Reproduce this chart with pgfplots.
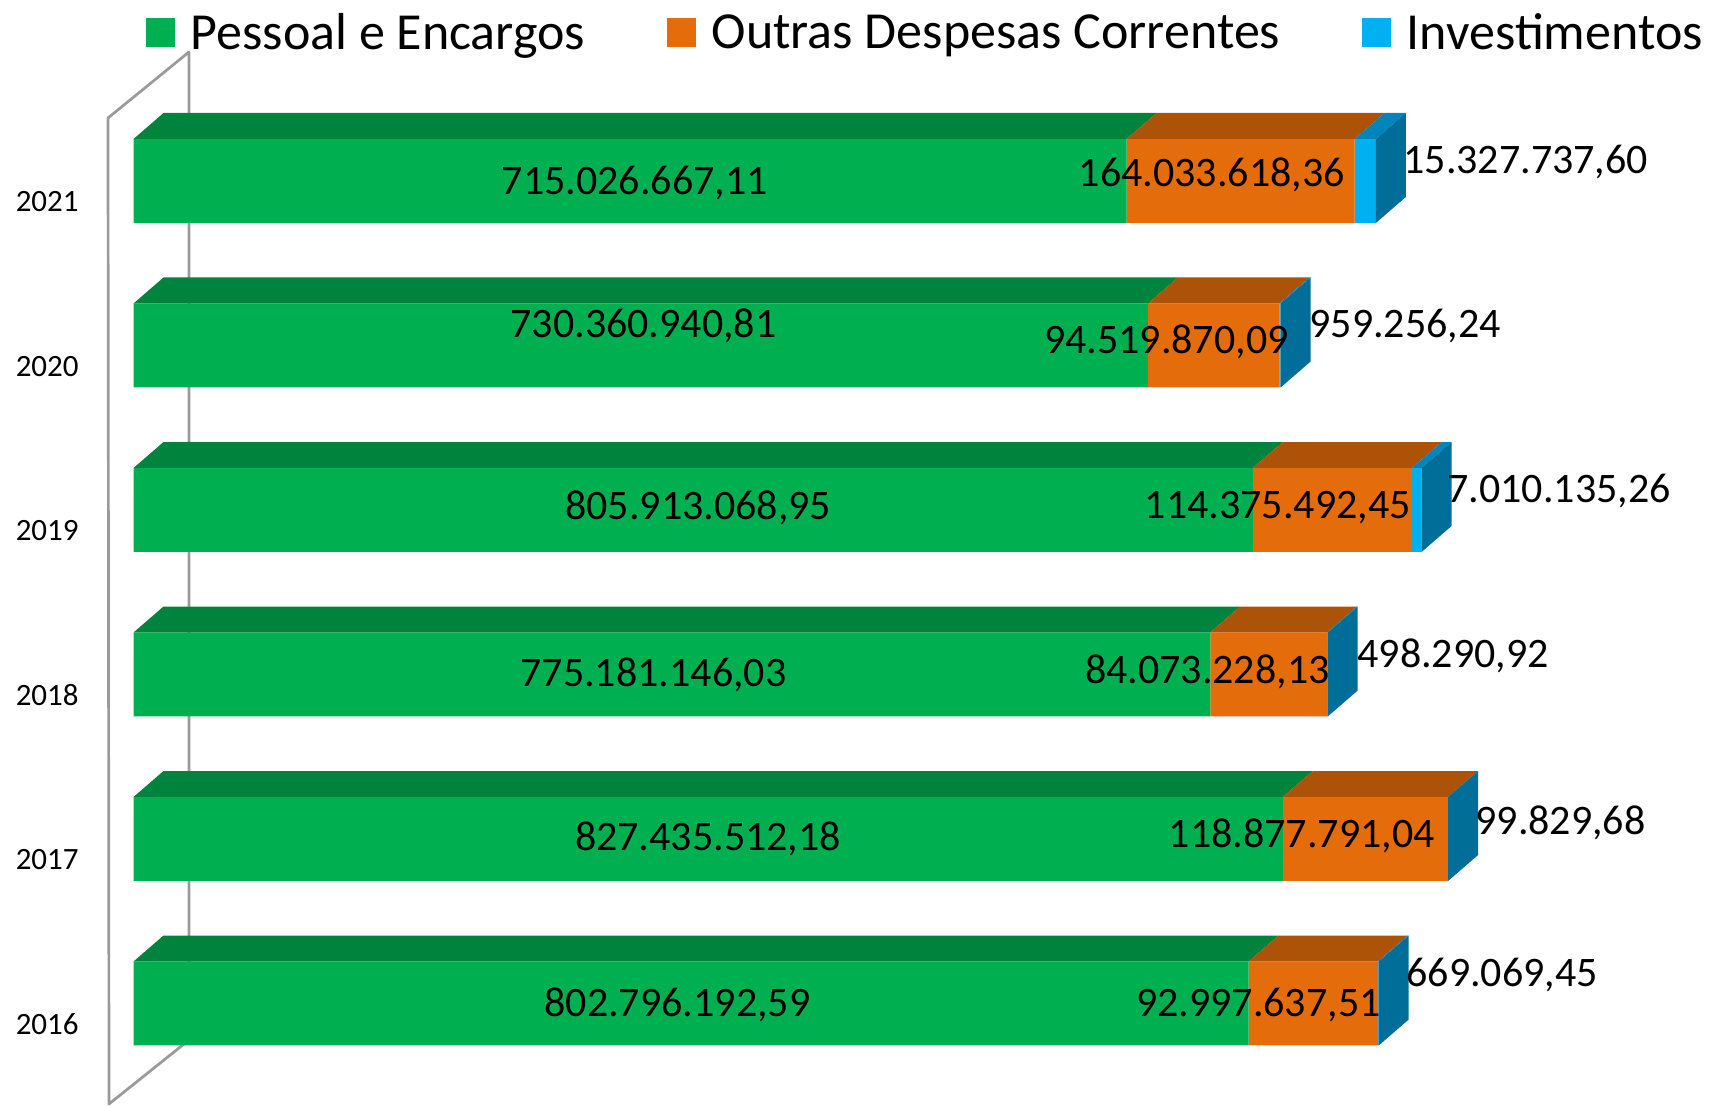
\documentclass[border=0pt]{standalone}
\usepackage{fontspec}
\setmainfont{Carlito}
\usepackage{pgfplots}
\pgfplotsset{compat=1.18}

\definecolor{gFront}{HTML}{00B050}
\definecolor{gTop}{HTML}{00843D}
\definecolor{oFront}{HTML}{E46C0A}
\definecolor{oTop}{HTML}{AD5307}
\definecolor{bFront}{HTML}{00B0F0}
\definecolor{bTop}{HTML}{0084BC}
\definecolor{bSide}{HTML}{006E99}
\definecolor{wall}{HTML}{9A9A9A}

\pgfplotsset{myax/.style={scale only axis, width=858pt, height=553pt,
  xmin=-96.11, xmax=1139.3, ymin=-0.6231, ymax=6.1003,
  at={(0,0)}, anchor=south west, clip=false}}

\begin{document}
\begin{tikzpicture}
\useasboundingbox (0,0) rectangle (858pt,553pt);
% back wall outline (pixel frame)
\begin{scope}[x=0.5pt,y=-0.5pt,yshift=553pt]
\draw[wall, line width=1.35pt, line join=round] (109,1104) -- (108,118) -- (189,52) -- (189,1040) -- cycle;
\end{scope}

% fronts of the bars (stacked, millions)
\begin{axis}[myax, xbar stacked, bar width=0.5106,
  axis line style={draw=none}, major tick length=0pt, xtick=\empty,
  ytick={0,1,2,3,4,5}, yticklabels={2016,2017,2018,2019,2020,2021},
  yticklabel style={font=\fontsize{15.5}{18}\selectfont, anchor=base east, inner sep=0pt, xshift=39.5pt, yshift=-15.5pt},
  legend image code/.code={\fill[#1] (0pt,-7.25pt) rectangle (14.5pt,7.25pt);},
  legend style={at={(rel axis cs:0.0851,0.9703)}, anchor=west, draw=none, fill=none,
    inner sep=0pt, outer sep=0pt, font=\fontsize{26}{30}\selectfont,
    /tikz/every odd column/.append style={column sep=5.8pt},
    /tikz/every even column/.append style={column sep=39pt}},
  legend columns=3]
\addplot[fill=gFront, draw=none] coordinates {(802.796,0) (827.436,1) (775.181,2) (805.913,3) (730.361,4) (715.027,5)};
\addplot[fill=oFront, draw=none] coordinates {(92.998,0) (118.878,1) (84.073,2) (114.375,3) (94.520,4) (164.034,5)};
\addplot[fill=bFront, draw=none] coordinates {(0.669,0) (0.100,1) (0.498,2) (7.010,3) (0.959,4) (15.328,5)};
\legend{Pessoal e Encargos, Outras Despesas Correntes, Investimentos}
\end{axis}

% tops and sides of the bars
\begin{axis}[myax, hide axis]
% 2021
\addplot[fill=gTop, draw=none] coordinates {(0,5.2553) (715.027,5.2553) (736.627,5.4133) (21.6,5.4133)} --cycle;
\addplot[fill=oTop, draw=none] coordinates {(715.027,5.2553) (879.061,5.2553) (900.661,5.4133) (736.627,5.4133)} --cycle;
\addplot[fill=bTop, draw=none] coordinates {(879.061,5.2553) (894.389,5.2553) (915.989,5.4133) (900.661,5.4133)} --cycle;
\addplot[fill=bSide, draw=none] coordinates {(894.389,4.7447) (894.389,5.2553) (915.989,5.4133) (915.989,4.9027)} --cycle;
% 2020
\addplot[fill=gTop, draw=none] coordinates {(0,4.2553) (730.361,4.2553) (751.961,4.4133) (21.6,4.4133)} --cycle;
\addplot[fill=oTop, draw=none] coordinates {(730.361,4.2553) (824.881,4.2553) (846.481,4.4133) (751.961,4.4133)} --cycle;
\addplot[fill=bTop, draw=none] coordinates {(824.881,4.2553) (825.840,4.2553) (847.440,4.4133) (846.481,4.4133)} --cycle;
\addplot[fill=bSide, draw=none] coordinates {(825.840,3.7447) (825.840,4.2553) (847.440,4.4133) (847.440,3.9027)} --cycle;
% 2019
\addplot[fill=gTop, draw=none] coordinates {(0,3.2553) (805.913,3.2553) (827.513,3.4133) (21.6,3.4133)} --cycle;
\addplot[fill=oTop, draw=none] coordinates {(805.913,3.2553) (920.288,3.2553) (941.888,3.4133) (827.513,3.4133)} --cycle;
\addplot[fill=bTop, draw=none] coordinates {(920.288,3.2553) (927.298,3.2553) (948.898,3.4133) (941.888,3.4133)} --cycle;
\addplot[fill=bSide, draw=none] coordinates {(927.298,2.7447) (927.298,3.2553) (948.898,3.4133) (948.898,2.9027)} --cycle;
% 2018
\addplot[fill=gTop, draw=none] coordinates {(0,2.2553) (775.181,2.2553) (796.781,2.4133) (21.6,2.4133)} --cycle;
\addplot[fill=oTop, draw=none] coordinates {(775.181,2.2553) (859.254,2.2553) (880.854,2.4133) (796.781,2.4133)} --cycle;
\addplot[fill=bTop, draw=none] coordinates {(859.254,2.2553) (859.752,2.2553) (881.352,2.4133) (880.854,2.4133)} --cycle;
\addplot[fill=bSide, draw=none] coordinates {(859.752,1.7447) (859.752,2.2553) (881.352,2.4133) (881.352,1.9027)} --cycle;
% 2017
\addplot[fill=gTop, draw=none] coordinates {(0,1.2553) (827.436,1.2553) (849.036,1.4133) (21.6,1.4133)} --cycle;
\addplot[fill=oTop, draw=none] coordinates {(827.436,1.2553) (946.314,1.2553) (967.914,1.4133) (849.036,1.4133)} --cycle;
\addplot[fill=bTop, draw=none] coordinates {(946.314,1.2553) (946.414,1.2553) (968.014,1.4133) (967.914,1.4133)} --cycle;
\addplot[fill=bSide, draw=none] coordinates {(946.414,0.7447) (946.414,1.2553) (968.014,1.4133) (968.014,0.9027)} --cycle;
% 2016
\addplot[fill=gTop, draw=none] coordinates {(0,0.2553) (802.796,0.2553) (824.396,0.4133) (21.6,0.4133)} --cycle;
\addplot[fill=oTop, draw=none] coordinates {(802.796,0.2553) (895.794,0.2553) (917.394,0.4133) (824.396,0.4133)} --cycle;
\addplot[fill=bTop, draw=none] coordinates {(895.794,0.2553) (896.463,0.2553) (918.063,0.4133) (917.394,0.4133)} --cycle;
\addplot[fill=bSide, draw=none] coordinates {(896.463,-0.2553) (896.463,0.2553) (918.063,0.4133) (918.063,-0.0973)} --cycle;
\end{axis}

% data labels (pixel frame)
\begin{scope}[x=0.5pt,y=-0.5pt,yshift=553pt, every node/.style={inner sep=0pt, font=\fontsize{21}{25}\selectfont}]
\node[anchor=base] at (634.8,195) {715.026.667,11};
\node[anchor=base] at (643.5,337.5) {730.360.940,81};
\node[anchor=base] at (698.2,520) {805.913.068,95};
\node[anchor=base] at (653.4,686.5) {775.181.146,03};
\node[anchor=base] at (708,850.5) {827.435.512,18};
\node[anchor=base] at (677.4,1017) {802.796.192,59};
\node[anchor=base east] at (1345,186.5) {164.033.618,36};
\node[anchor=base east] at (1289,353.5) {94.519.870,09};
\node[anchor=base east] at (1411,519) {114.375.492,45};
\node[anchor=base east] at (1330,683.5) {84.073.228,13};
\node[anchor=base east] at (1435,847.5) {118.877.791,04};
\node[anchor=base east] at (1381,1017) {92.997.637,51};
\node[anchor=base west] at (1403,173.5) {15.327.737,60};
\node[anchor=base west] at (1309,337.5) {959.256,24};
\node[anchor=base west] at (1447,502.5) {7.010.135,26};
\node[anchor=base west] at (1357,668) {498.290,92};
\node[anchor=base west] at (1475,834.5) {99.829,68};
\node[anchor=base west] at (1406,986.5) {669.069,45};
\end{scope}
\end{tikzpicture}
\end{document}
